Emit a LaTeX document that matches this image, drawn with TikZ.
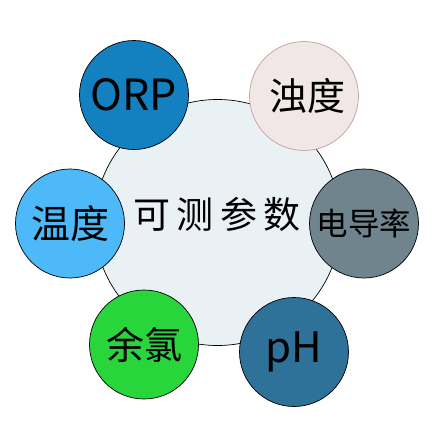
\documentclass[tikz,border=0pt]{standalone}
\usepackage{fontspec}
\newfontfamily\cjk{Noto Sans CJK SC}
\usepackage{tikz}
\usetikzlibrary{positioning}
\definecolor{hubfill}{RGB}{234,241,245}
\definecolor{orpblue}{RGB}{19,128,192}
\definecolor{turbfill}{RGB}{242,231,231}
\definecolor{turbline}{RGB}{196,160,160}
\definecolor{condgray}{RGB}{112,132,142}
\definecolor{phblue}{RGB}{46,114,153}
\definecolor{clgreen}{RGB}{40,214,60}
\definecolor{tempblue}{RGB}{77,185,248}

\begin{document}
\begin{tikzpicture}[x=1pt,y=-1pt,
 hub/.style={circle,draw,line width=.7pt,fill=hubfill,minimum size=246pt,inner sep=0pt},
 param/.style={circle,draw,line width=.7pt,minimum size=109pt,inner sep=0pt},
 font=\cjk]
\useasboundingbox (0,0) rectangle (439,439);
\node[hub] (hub) at (217.5,222.5) {};
\node[font=\cjk\fontsize{37}{40}\selectfont] (title) at (217,214) {可\,测\,参\,数};
\node[param,fill=orpblue] (orp) at (134,95) {\fontsize{43}{46}\selectfont ORP};
\node[param,fill=turbfill,draw=turbline] (turb) at (304,96) {\fontsize{38}{40}\selectfont\,浊度};
\node[param,fill=condgray] (cond) at (364,223.5) {\fontsize{31.5}{34}\selectfont 电导率};
\node[param,fill=phblue] (ph) at (294,352) {\fontsize{42}{45}\selectfont pH};
\node[param,fill=clgreen] (cl) at (144,344.5) {\fontsize{38}{40}\selectfont 余氯};
\node[param,fill=tempblue] (temp) at (70,223.5) {\fontsize{39}{42}\selectfont 温度};
\end{tikzpicture}
\end{document}
